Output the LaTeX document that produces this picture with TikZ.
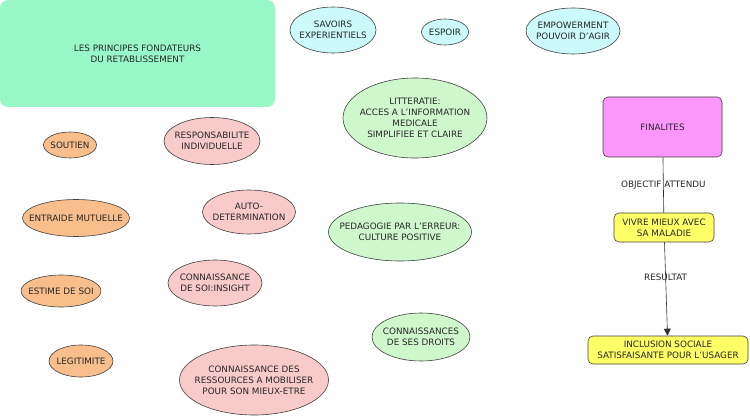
\documentclass[tikz,border=0pt]{standalone}
\usepackage{fontspec}
\setmainfont{DejaVu Sans}
\usetikzlibrary{shapes.geometric,arrows.meta,positioning}

\definecolor{mint}{RGB}{152,248,200}
\definecolor{skyfill}{RGB}{204,250,250}
\definecolor{leaffill}{RGB}{206,248,204}
\definecolor{rosefill}{RGB}{249,202,202}
\definecolor{peachfill}{RGB}{248,190,140}
\definecolor{lemonfill}{RGB}{255,255,102}
\definecolor{orchidfill}{RGB}{252,150,252}

\begin{document}
\begin{tikzpicture}[x=1pt, y=-1pt,
  txt/.style={font=\fontsize{8.8}{11}\selectfont, text=black!85, align=center},
  bubble/.style={ellipse, draw=black!75, line width=0.6pt, inner sep=0pt},
  unit/.style={rectangle, rounded corners=5pt, draw=black!75, line width=0.6pt, inner sep=0pt, txt},
  tag/.style={txt, inner sep=1pt}]

\useasboundingbox (0,0) rectangle (750,417);

%Nodes
\node[unit, fill=mint, draw=none, rounded corners=8pt, minimum width=275, minimum height=107] (title) at (137.5,53.5) {LES PRINCIPES FONDATEURS\\DU RETABLISSEMENT};

\node[bubble, fill=skyfill, minimum width=86, minimum height=46, label={[txt]center:{SAVOIRS\\EXPERIENTIELS}}] (savoirs) at (333,30) {};
\node[bubble, fill=skyfill, minimum width=47, minimum height=26, label={[txt]center:{ESPOIR}}] (espoir) at (445,32) {};
\node[bubble, fill=skyfill, minimum width=94, minimum height=46, label={[txt]center:{EMPOWERMENT\\POUVOIR D'AGIR}}] (empow) at (573,31) {};

\node[bubble, fill=leaffill, minimum width=144, minimum height=80, label={[txt]center:{LITTERATIE:\\ACCES A L'INFORMATION\\MEDICALE\\SIMPLIFIEE ET CLAIRE}}] (litt) at (415,118) {};
\node[bubble, fill=leaffill, minimum width=143, minimum height=58, label={[txt]center:{PEDAGOGIE PAR L'ERREUR:\\CULTURE POSITIVE}}] (peda) at (400,232) {};
\node[bubble, fill=leaffill, minimum width=98, minimum height=48, label={[txt]center:{CONNAISSANCES\\DE SES DROITS}}] (droits) at (421,337) {};

\node[bubble, fill=peachfill, minimum width=53, minimum height=26, label={[txt]center:{SOUTIEN}}] (soutien) at (70,145) {};
\node[bubble, fill=peachfill, minimum width=107, minimum height=37, label={[txt]center:{ENTRAIDE MUTUELLE}}] (entraide) at (76,218) {};
\node[bubble, fill=peachfill, minimum width=80, minimum height=32, label={[txt]center:{ESTIME DE SOI}}] (estime) at (61,291) {};
\node[bubble, fill=peachfill, minimum width=64, minimum height=32, label={[txt]center:{LEGITIMITE}}] (legit) at (81,361) {};

\node[bubble, fill=rosefill, minimum width=96, minimum height=47, label={[txt]center:{RESPONSABILITE\\INDIVIDUELLE}}] (respons) at (212,141) {};
\node[bubble, fill=rosefill, minimum width=93, minimum height=44, label={[txt]center:{AUTO-\\DETERMINATION}}] (autodet) at (249,212) {};
\node[bubble, fill=rosefill, minimum width=94, minimum height=46, label={[txt]center:{CONNAISSANCE\\DE SOI:INSIGHT}}] (insight) at (215,283) {};
\node[bubble, fill=rosefill, minimum width=149, minimum height=70, label={[txt]center:{CONNAISSANCE DES\\RESSOURCES A MOBILISER\\POUR SON MIEUX-ETRE}}] (ressour) at (254,380) {};

\node[unit, fill=orchidfill, minimum width=119, minimum height=60] (final)  at (662.5,127) {FINALITES};
\node[unit, fill=lemonfill, minimum width=100, minimum height=29]  (vivre)  at (664,227.5) {VIVRE MIEUX AVEC\\SA MALADIE};
\node[unit, fill=lemonfill, minimum width=160, minimum height=28]  (inclus) at (668,350)   {INCLUSION SOCIALE\\SATISFAISANTE POUR L'USAGER};

%Lines
\draw[black!80, line width=0.6pt] (final) -- node[tag] {OBJECTIF ATTENDU} (vivre);
\draw[black!80, line width=0.6pt, -{Triangle[length=7pt, width=7pt]}] (vivre) -- node[tag, pos=0.37] {RESULTAT} (inclus);

\end{tikzpicture}
\end{document}
